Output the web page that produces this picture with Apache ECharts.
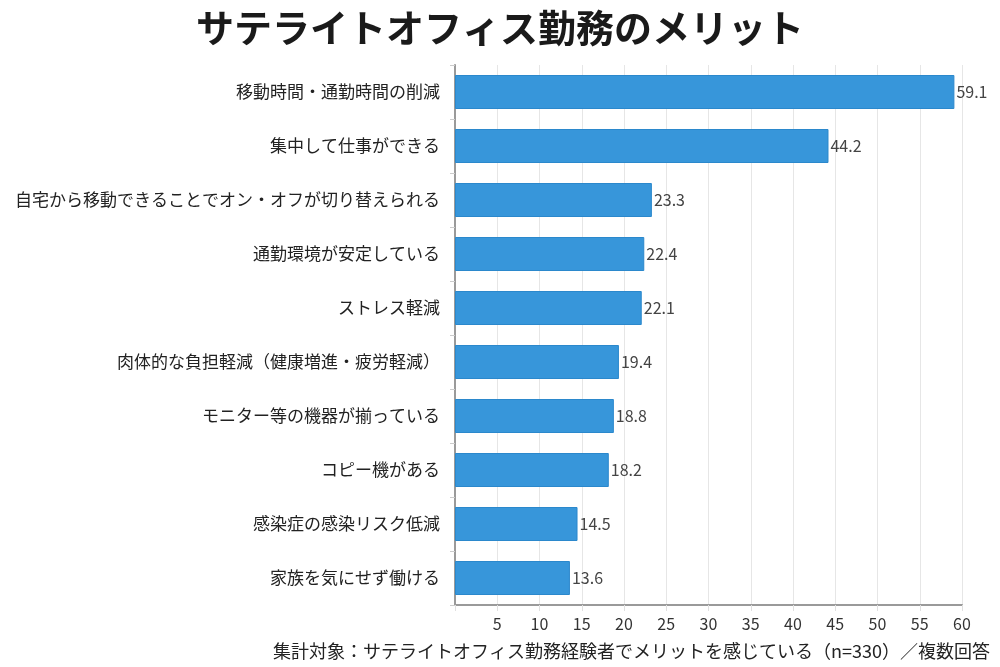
<!DOCTYPE html>
<html><head><meta charset="utf-8">
<script src="https://cdn.jsdelivr.net/npm/echarts@6/dist/echarts.min.js"></script>
<style>html,body{margin:0;padding:0;background:#fff}#c{width:1000px;height:667px}</style>
</head><body><div id="c"></div>
<script>
const categories = [
  "移動時間・通勤時間の削減",
  "集中して仕事ができる",
  "自宅から移動できることでオン・オフが切り替えられる",
  "通勤環境が安定している",
  "ストレス軽減",
  "肉体的な負担軽減（健康増進・疲労軽減）",
  "モニター等の機器が揃っている",
  "コピー機がある",
  "感染症の感染リスク低減",
  "家族を気にせず働ける"
];
const values = [59.1, 44.2, 23.3, 22.4, 22.1, 19.4, 18.8, 18.2, 14.5, 13.6];
const titleText = "サテライトオフィス勤務のメリット";
const noteText = "集計対象：サテライトオフィス勤務経験者でメリットを感じている（n=330）／複数回答";

const font = '"Noto Sans CJK JP","Noto Sans",sans-serif';
const chart = echarts.init(document.getElementById('c'));
chart.setOption({
  animation: false,
  textStyle: { fontFamily: font },
  title: [
    { text: titleText, left: 'center', top: 4,
      textStyle: { fontSize: 38, fontWeight: 'bold', color: '#1a1a1a', fontFamily: font } },
    { text: noteText, right: 5, top: 637,
      textStyle: { fontSize: 18, fontWeight: 'normal', color: '#222', fontFamily: font } }
  ],
  grid: { left: 455, right: 38, top: 65, bottom: 62, containLabel: false },
  xAxis: {
    type: 'value', min: 0, max: 60, interval: 5,
    axisLine: { show: true, lineStyle: { color: '#9a9a9a', width: 2 } },
    axisTick: { show: true, length: 6, lineStyle: { color: '#e0e0e0' } },
    splitLine: { show: true, lineStyle: { color: '#e6e6e6', width: 1 } },
    axisLabel: { color: '#333', fontSize: 16, margin: 11,
      formatter: v => v === 0 ? '' : String(v) }
  },
  yAxis: {
    type: 'category', data: categories, inverse: true,
    axisLine: { show: true, lineStyle: { color: '#9a9a9a', width: 2 } },
    axisTick: { show: true, length: 5, lineStyle: { color: '#cccccc' } },
    axisLabel: { color: '#222', fontSize: 17, margin: 15 }
  },
  series: [{
    type: 'bar', data: values, barWidth: 34,
    itemStyle: { color: '#3796da', borderColor: '#2b88cc', borderWidth: 1 },
    label: { show: true, position: 'right', distance: 2, color: '#444', fontSize: 16 }
  }]
});
</script></body></html>
